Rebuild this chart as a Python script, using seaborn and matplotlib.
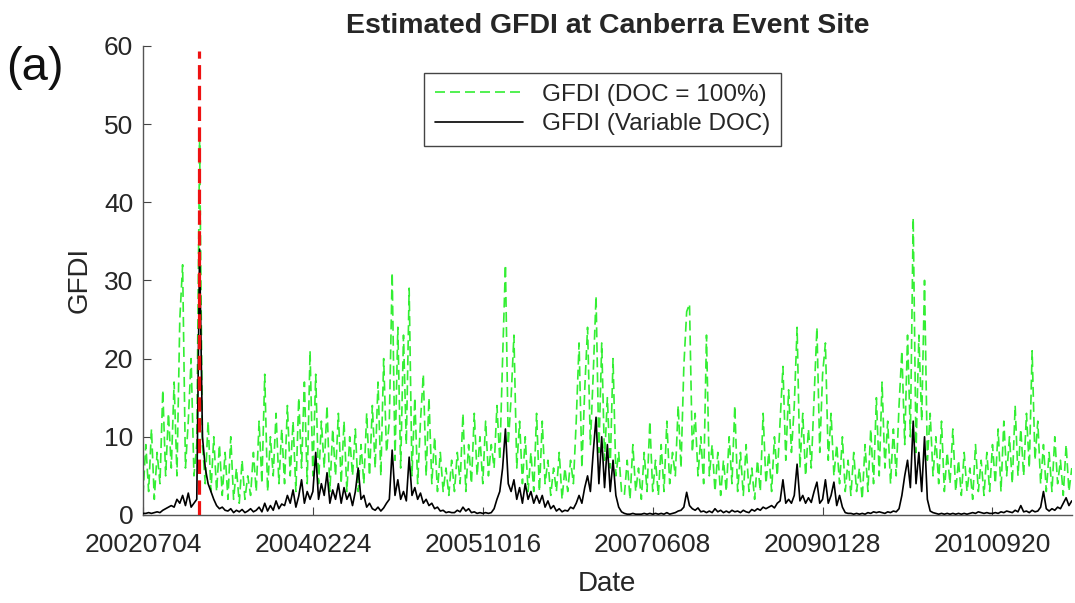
import numpy as np
import pandas as pd
import seaborn as sns
from matplotlib import pyplot as plt

# GFDI, one value every 10 days from 2002-07-04
start_date = "2002-07-04"
step_days = 10

gfdi_full = [
    2.5, 9, 3, 11, 2, 8, 4, 16, 5, 13,
    6, 17, 5, 25, 32, 6, 12, 20, 5, 9,
    48, 9, 4, 12, 3, 10, 3, 9, 2.5, 8,
    2, 10, 2, 6, 1.5, 7, 2, 5, 2.5, 8,
    3, 12, 4, 18, 3, 10, 5, 13, 4, 11,
    4, 14, 5, 12, 3, 15, 6, 17, 4, 21,
    5, 18, 4, 12, 6, 14, 3, 11, 5, 13,
    4, 12, 3, 10, 5, 11, 3, 9, 4, 13,
    5, 14, 6, 17, 5, 20, 8, 12, 31, 7,
    24, 6, 23, 9, 29, 5, 15, 4, 12, 18,
    5, 15, 4, 10, 3, 8, 3, 6, 2.5, 7,
    3, 8, 4, 13, 3, 9, 4, 13, 5, 10,
    4, 12, 5, 9, 6, 14, 7, 20, 32, 9,
    15, 23, 6, 12, 4, 10, 3, 8, 3, 13,
    3, 12, 4, 7, 2.5, 6, 3, 8, 2, 6,
    3, 7, 4, 12, 22, 6, 16, 24, 9, 18,
    28, 8, 22, 7, 15, 6, 20, 5, 8, 3,
    2.5, 7, 2, 9, 3, 6, 2, 8, 3, 12,
    3, 7, 2.5, 9, 3, 12, 4, 8, 5, 14,
    6, 19, 26, 27, 8, 13, 5, 10, 4, 23,
    5, 9, 3, 8, 2.5, 7, 3, 10, 4, 14,
    3, 8, 2.5, 9, 3, 6, 2, 7, 3, 13,
    4, 8, 3, 10, 5, 12, 19, 7, 16, 8,
    14, 24, 6, 13, 5, 11, 6, 15, 24, 8,
    18, 22, 7, 13, 5, 9, 4, 10, 3, 7,
    2.5, 8, 3, 6, 2, 9, 3, 11, 4, 15,
    5, 17, 6, 12, 4, 11, 5, 14, 21, 9,
    23, 10, 38, 8, 23, 12, 30, 7, 13, 5,
    10, 4, 12, 3, 8, 4, 11, 3, 7, 2.5,
    8, 3, 6, 2, 9, 3, 7, 2.5, 8, 3,
    9, 4, 11, 3, 12, 5, 10, 4, 14, 5,
    11, 5, 13, 6, 21, 7, 12, 4, 9, 3,
    8, 3, 10, 4, 7, 2.5, 9, 3, 6,
]

gfdi_var = [
    0.2, 0.2, 0.3, 0.2, 0.3, 0.4, 0.3, 0.6, 0.8, 1.0,
    1.2, 1.0, 2.0, 1.5, 2.5, 1.2, 2.8, 1.0, 1.5, 2.0,
    34, 10, 6, 4, 3, 2, 1.2, 0.8, 1.0, 0.6,
    0.5, 0.8, 0.3, 0.6, 0.4, 0.7, 0.3, 0.5, 0.8, 0.4,
    0.6, 1.0, 0.4, 1.5, 0.5, 1.2, 0.6, 1.8, 0.8, 1.4,
    1.2, 2.5, 1.5, 3.2, 1.0, 2.4, 4.5, 1.5, 3.0, 2.0,
    3.0, 8.0, 2.0, 4.0, 2.5, 5.4, 1.5, 3.2, 2.0, 4.0,
    1.5, 3.5, 2.0, 2.8, 1.2, 3.0, 6.0, 2.0, 2.5, 1.0,
    1.5, 0.8, 0.6, 1.0, 0.5, 0.9, 1.5, 2.0, 8.3, 2.5,
    4.5, 2.0, 3.0, 1.8, 7.4, 2.5, 3.5, 2.0, 2.8, 1.5,
    2.0, 1.2, 1.5, 0.8, 1.0, 0.5, 0.6, 0.3, 0.4, 0.3,
    0.3, 0.6, 0.4, 1.0, 0.5, 0.8, 0.3, 0.4, 0.2, 0.3,
    0.2, 0.3, 0.2, 0.3, 0.8, 2.0, 3.0, 6.0, 11.0, 4.0,
    3.0, 4.5, 2.0, 3.5, 1.5, 4.0, 2.0, 3.0, 1.5, 2.5,
    1.5, 2.5, 1.0, 1.8, 0.8, 1.2, 0.5, 0.8, 0.4, 0.6,
    0.5, 1.0, 0.8, 1.5, 2.5, 1.5, 3.5, 5.0, 3.0, 8.0,
    12.5, 4.0, 10.0, 3.5, 9.0, 3.0, 7.0, 2.5, 1.0, 0.4,
    0.2, 0.1, 0.1, 0.2, 0.1, 0.1, 0.1, 0.2, 0.1, 0.2,
    0.1, 0.2, 0.1, 0.2, 0.1, 0.3, 0.1, 0.2, 0.3, 0.5,
    0.6, 1.0, 2.9, 1.2, 0.8, 0.6, 0.9, 0.4, 0.5, 0.3,
    0.5, 0.3, 0.8, 0.4, 0.6, 0.3, 0.5, 0.3, 0.6, 0.4,
    0.5, 0.3, 0.6, 0.4, 0.3, 0.7, 0.5, 0.8, 0.6, 1.0,
    0.8, 1.0, 1.2, 0.9, 1.5, 1.8, 4.5, 1.5, 2.0, 1.5,
    2.5, 6.5, 1.8, 2.5, 1.5, 2.2, 1.6, 3.0, 4.2, 1.5,
    2.0, 4.5, 1.5, 2.5, 4.2, 1.2, 2.5, 1.0, 0.3, 0.2,
    0.2, 0.1, 0.2, 0.1, 0.2, 0.1, 0.3, 0.2, 0.4, 0.3,
    0.4, 0.3, 0.2, 0.4, 0.3, 0.5, 0.4, 0.8, 2.5, 5.0,
    7.0, 3.5, 12.0, 4.0, 8.0, 3.0, 10.0, 2.0, 0.5, 0.3,
    0.2, 0.1, 0.2, 0.1, 0.2, 0.1, 0.2, 0.1, 0.2, 0.1,
    0.2, 0.1, 0.2, 0.3, 0.2, 0.4, 0.3, 0.2, 0.3, 0.2,
    0.2, 0.3, 0.2, 0.4, 0.3, 0.5, 0.4, 0.3, 0.6, 0.4,
    1.2, 0.4, 0.5, 0.3, 0.6, 0.4, 0.5, 1.0, 3.0, 0.8,
    0.5, 0.8, 0.6, 1.0, 0.8, 1.5, 2.2, 1.2, 1.8,
]

event_date = "2003-01-18"
tick_labels = ["20020704", "20040224", "20051016", "20070608", "20090128", "20100920"]


dates = pd.date_range(start_date, periods=len(gfdi_full), freq=f"{step_days}D")
df = pd.DataFrame({"Date": dates, "full": gfdi_full, "var": gfdi_var})

sns.set_style("ticks")
plt.rcParams["font.family"] = ["Liberation Sans", "DejaVu Sans"]

fig = plt.figure(figsize=(10.75, 6.03), dpi=100)
ax = fig.add_axes([0.133, 0.146, 0.864, 0.778])

sns.lineplot(data=df, x="Date", y="full", ax=ax, color="#33ee33", lw=1.2,
             linestyle=(0, (6, 3)), label="GFDI (DOC = 100%)", zorder=2)
sns.lineplot(data=df, x="Date", y="var", ax=ax, color="black", lw=1.2,
             label="GFDI (Variable DOC)", zorder=3)
ax.axvline(pd.Timestamp(event_date), color="#ee1111", lw=2.3,
           linestyle=(0, (4.5, 2)), ymin=0, ymax=0.99, zorder=4)

ax.set_xlim(dates[0], dates[-1])
ax.set_ylim(0, 60)
ax.set_yticks(np.arange(0, 61, 10))
ax.set_xticks(pd.to_datetime(tick_labels, format="%Y%m%d"))
ax.set_xticklabels(tick_labels)
ax.tick_params(direction="in", length=6, labelsize=19, colors="#444444",
               labelcolor="#262626")
ax.tick_params(axis="x", pad=13)
ax.tick_params(axis="y", pad=7)

for side in ["top", "right"]:
    ax.spines[side].set_visible(False)
for side in ["left", "bottom"]:
    ax.spines[side].set_color("#555555")
    ax.spines[side].set_linewidth(1.0)

ax.set_xlabel("Date", fontsize=20, color="#262626", labelpad=10)
ax.set_ylabel("GFDI", fontsize=20, color="#262626", labelpad=8)
ax.set_title("Estimated GFDI at Canberra Event Site", fontsize=20.5,
             fontweight="bold", pad=9)
fig.text(0.006, 0.868, "(a)", fontsize=34, color="#111111")

leg = ax.legend(loc="upper center", bbox_to_anchor=(0.495, 0.942), fontsize=17.5,
                handlelength=3.6, fancybox=False, framealpha=1,
                edgecolor="#444444", borderpad=0.45, labelspacing=0.3,
                borderaxespad=0)
leg.get_frame().set_linewidth(1.0)

plt.savefig("out.png", dpi=100)
plt.close()
